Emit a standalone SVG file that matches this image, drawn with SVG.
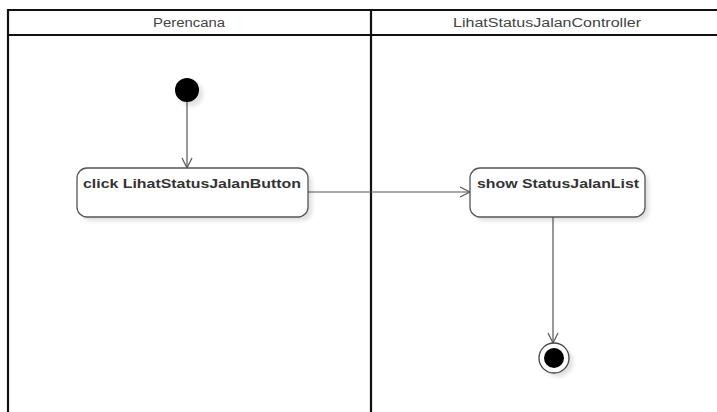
<svg xmlns="http://www.w3.org/2000/svg" width="717" height="412" viewBox="0 0 717 412">
  <style>
    .lane { fill: none; stroke: #111; stroke-width: 2.2; }
    .lane-title { font-family: "Liberation Sans", Arial, sans-serif; font-size: 12px; fill: #444; text-anchor: middle; }
    .action { fill: #fff; stroke: #555; stroke-width: 1.3; }
    .action-text { font-family: "Liberation Sans", Arial, sans-serif; font-size: 13px; font-weight: bold; fill: #333; }
    .flow { fill: none; stroke: #555; stroke-width: 1.2; }
    .shadow { fill: #000; opacity: 0.12; filter: url(#soft); }
  </style>
  <defs>
    <filter id="soft" x="-20%" y="-20%" width="140%" height="140%">
      <feGaussianBlur stdDeviation="2"/>
    </filter>
    <marker id="open-arrow" markerWidth="14" markerHeight="12" refX="11" refY="6" orient="auto" markerUnits="userSpaceOnUse">
      <path d="M1,1 L11,6 L1,11" fill="none" stroke="#555" stroke-width="1.2"/>
    </marker>
  </defs>

  <rect width="717" height="412" fill="#fff"/>

  <!-- swimlanes -->
  <g id="lanes">
    <path class="lane" d="M8,412 V10 H717 M8,35 H717 M371,10 V412"/>
    <text class="lane-title" x="189" y="27" textLength="72" lengthAdjust="spacingAndGlyphs">Perencana</text>
    <text class="lane-title" x="547" y="27" textLength="188" lengthAdjust="spacingAndGlyphs">LihatStatusJalanController</text>
  </g>

  <!-- connectors -->
  <g id="connectors">
    <path class="flow" d="M187,102 V168" marker-end="url(#open-arrow)"/>
    <path class="flow" d="M308,192 H470" marker-end="url(#open-arrow)"/>
    <path class="flow" d="M553,217 V343" marker-end="url(#open-arrow)"/>
  </g>

  <g id="initial">
    <circle class="shadow" cx="191" cy="94" r="12"/>
    <circle cx="187" cy="90" r="12" fill="#000"/>
  </g>

  <g id="click-button">
    <rect class="shadow" x="81" y="172" width="231" height="49" rx="10"/>
    <rect class="action" x="77" y="168" width="231" height="49" rx="10"/>
    <text class="action-text" x="83" y="188" textLength="218" lengthAdjust="spacingAndGlyphs">click LihatStatusJalanButton</text>
  </g>

  <g id="show-list">
    <rect class="shadow" x="474" y="172" width="175" height="49" rx="10"/>
    <rect class="action" x="470" y="168" width="175" height="49" rx="10"/>
    <text class="action-text" x="477" y="188" textLength="162" lengthAdjust="spacingAndGlyphs">show StatusJalanList</text>
  </g>

  <g id="final">
    <circle class="shadow" cx="558" cy="362" r="15"/>
    <circle cx="554" cy="358" r="15" fill="#fff" stroke="#444" stroke-width="1.3"/>
    <circle cx="554" cy="358" r="10" fill="#000"/>
  </g>
</svg>
